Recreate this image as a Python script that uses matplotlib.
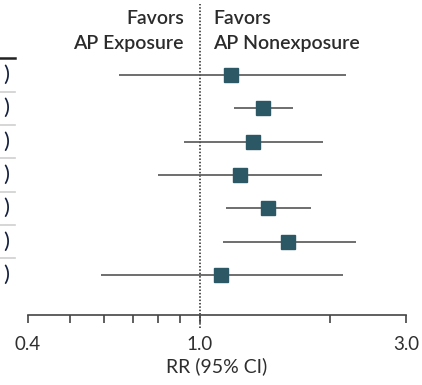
import matplotlib
matplotlib.use("Agg")
import matplotlib.pyplot as plt
import matplotlib.ticker as mticker
import matplotlib.transforms as mtrans
import numpy as np

# risk ratios and 95% CI, one per row (top to bottom)
rr = [1.18, 1.40, 1.33, 1.24, 1.44, 1.60, 1.12]
ci_lo = [0.65, 1.20, 0.92, 0.80, 1.15, 1.13, 0.59]
ci_hi = [2.18, 1.64, 1.93, 1.92, 1.81, 2.30, 2.14]

major_ticks = [0.4, 1.0, 3.0]
minor_ticks = [0.5, 0.6, 0.7, 0.8, 0.9, 2.0]
tick_labels = ["0.4", "1.0", "3.0"]

W, H = 422, 385
plt.rcParams['font.family'] = ['Lato', 'DejaVu Sans']

fig = plt.figure(figsize=(W / 100, H / 100), dpi=100)
ax = fig.add_axes([28 / W, (H - 315) / H, (406 - 28) / W, 257 / H])

rows = np.arange(len(rr))
ax.hlines(rows, ci_lo, ci_hi, color='#555555', lw=1.2, zorder=2)
ax.plot(rr, rows, 's', ms=10.5, color='#2c5866', mec='#2c5866', zorder=3)

ax.set_xscale('log')
ax.set_xlim(0.4, 3.0)
ax.set_ylim(len(rr) + 0.2, -0.51)
ax.xaxis.set_major_locator(mticker.FixedLocator(major_ticks))
ax.xaxis.set_major_formatter(mticker.FixedFormatter(tick_labels))
ax.xaxis.set_minor_locator(mticker.FixedLocator(minor_ticks))
ax.xaxis.set_minor_formatter(mticker.NullFormatter())
ax.tick_params(axis='x', which='both', direction='out', length=6, width=1.2,
               color='#444444', labelsize=13.5, labelcolor='#2e2e2e', pad=9)
ax.set_yticks([])
for s in ['left', 'right', 'top']:
    ax.spines[s].set_visible(False)
ax.spines['bottom'].set_color('#444444')
ax.spines['bottom'].set_linewidth(1.2)
ax.set_xlabel("RR (95% CI)", fontsize=14, color='#2e2e2e', labelpad=3)

# reference line at RR = 1
ax.axvline(1.0, ymin=-0.05, ymax=1.21, color='#222222', ls=(0, (1, 1.2)),
           lw=1.1, clip_on=False, zorder=1)

# header
def fx(x):
    return x / W

def fy(y):
    return 1 - y / H

hdr = dict(fontsize=14, color='#2b2b2b', weight='semibold', va='baseline')
fig.text(fx(184), fy(24), "Favors", ha='right', **hdr)
fig.text(fx(184), fy(49), "AP Exposure", ha='right', **hdr)
fig.text(fx(213), fy(24), "Favors", ha='left', **hdr)
fig.text(fx(213), fy(49), "AP Nonexposure", ha='left', **hdr)

# cut-off table column on the left
tr = mtrans.blended_transform_factory(fig.transFigure, ax.transData)
ax.plot([0, fx(15)], [-0.5, -0.5], color='#222222', lw=1.8,
        transform=tr, clip_on=False)
for i in rows:
    ax.text(fx(9), i, ")", transform=tr, ha='right', va='center',
            fontsize=16, color='#15203f', clip_on=False)
    if i < len(rr) - 1:
        ax.plot([0, fx(15)], [i + 0.5, i + 0.5], color='#cfcfcf', lw=1.2,
                transform=tr, clip_on=False)

fig.savefig("out.png", dpi=100)
